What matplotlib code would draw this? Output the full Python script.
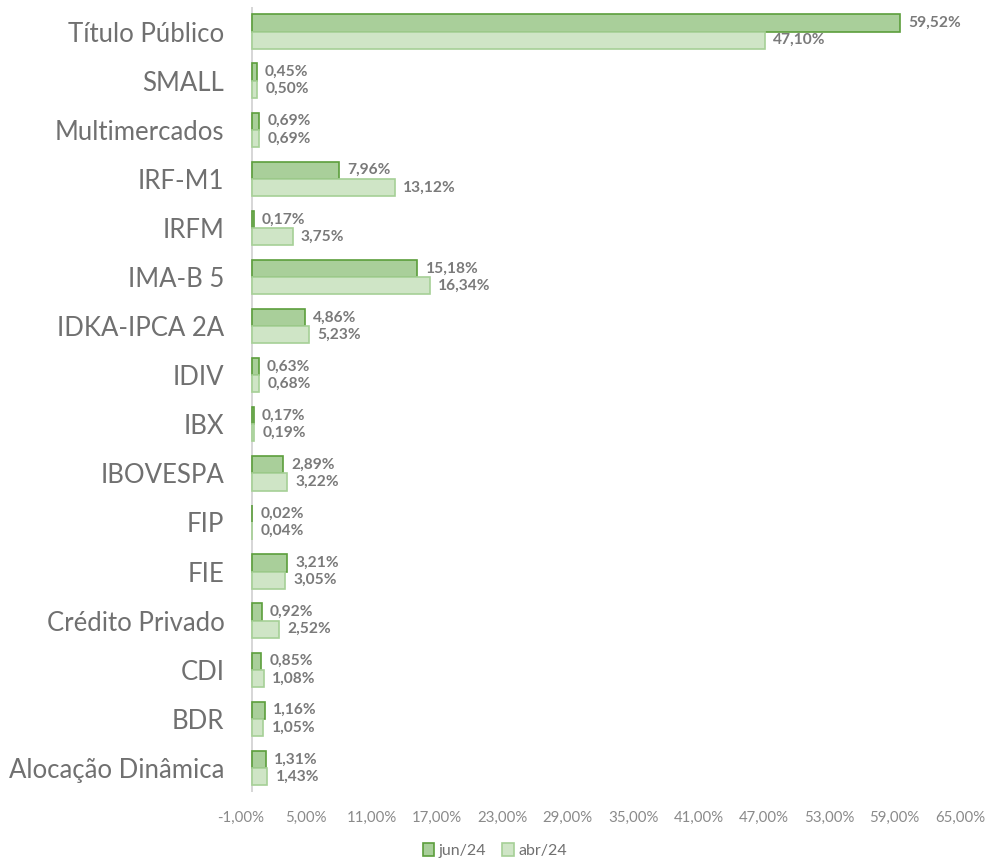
import matplotlib
matplotlib.use("Agg")
import matplotlib.pyplot as plt
import numpy as np

categories = ["Título Público", "SMALL", "Multimercados", "IRF-M1", "IRFM", "IMA-B 5",
              "IDKA-IPCA 2A", "IDIV", "IBX", "IBOVESPA", "FIP", "FIE", "Crédito Privado",
              "CDI", "BDR", "Alocação Dinâmica"]
jun24 = [59.52, 0.45, 0.69, 7.96, 0.17, 15.18, 4.86, 0.63, 0.17, 2.89, 0.02, 3.21, 0.92, 0.85, 1.16, 1.31]
abr24 = [47.10, 0.50, 0.69, 13.12, 3.75, 16.34, 5.23, 0.68, 0.19, 3.22, 0.04, 3.05, 2.52, 1.08, 1.05, 1.43]
xticks = [-1, 5, 11, 17, 23, 29, 35, 41, 47, 53, 59, 65]

def fmt(v):
    return f"{v:.2f}".replace(".", ",") + "%"

plt.rcParams['font.family'] = ['Lato', 'DejaVu Sans']

fig = plt.figure(figsize=(9.86, 8.61), dpi=100)
ax = fig.add_axes([241/986, 0.0796, (960-241)/986, 0.9123])

y = np.arange(len(categories))
h = 0.35
b1 = ax.barh(y - h/2, jun24, height=h, color="#a9cf9a", edgecolor="#5c9e3c", linewidth=1.2, label="jun/24")
b2 = ax.barh(y + h/2, abr24, height=h, color="#cfe5c6", edgecolor="#a6d096", linewidth=1.2, label="abr/24")

for yy, v in zip(y - h/2, jun24):
    ax.text(v + 0.75, yy, fmt(v), va="center", ha="left", fontsize=11.2, fontweight="bold", color="#7a7a7a")
for yy, v in zip(y + h/2, abr24):
    ax.text(v + 0.75, yy, fmt(v), va="center", ha="left", fontsize=11.2, fontweight="bold", color="#7a7a7a")

ax.set_xlim(-1, 65)
ax.set_ylim(15.5, -0.5)
ax.set_xticks(xticks)
ax.set_xticklabels([fmt(t) for t in xticks], fontsize=10.8, color="#8a8a8a")
ax.set_yticks(y)
ax.set_yticklabels(categories, fontsize=18.5, color="#707070")
ax.tick_params(axis="both", length=0)
ax.tick_params(axis="x", pad=13)
ax.tick_params(axis="y", pad=12)
for s in ["top", "right", "bottom", "left"]:
    ax.spines[s].set_visible(False)
ax.axvline(0, color="#d0d0d0", linewidth=1.2, zorder=0)

leg = fig.legend(handles=[b1, b2], loc="center", bbox_to_anchor=(0.502, 0.012), ncol=2, frameon=False,
                 fontsize=11.5, handlelength=0.7, handleheight=0.9, handletextpad=0.3, columnspacing=1.0)
for t in leg.get_texts():
    t.set_color("#707070")

fig.savefig("out.png", dpi=100)
